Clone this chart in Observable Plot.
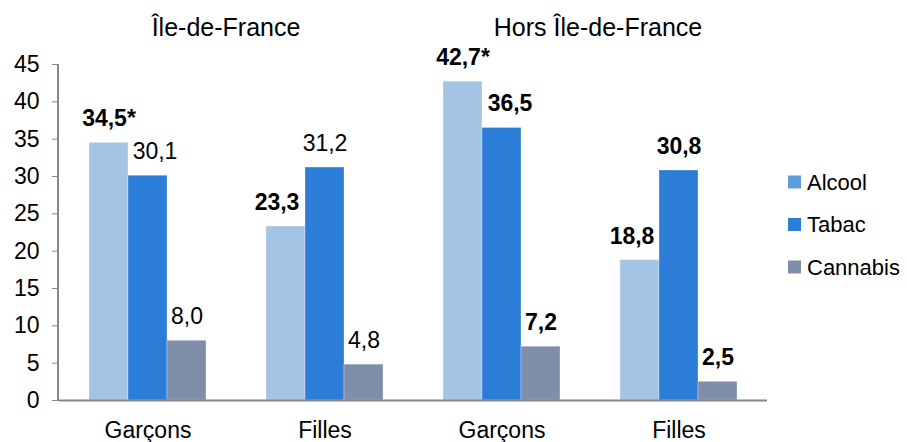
<!DOCTYPE html>
<html>
<head>
<meta charset="utf-8">
<script src="https://cdn.jsdelivr.net/npm/d3@7"></script>
<script src="https://cdn.jsdelivr.net/npm/@observablehq/plot@0.6"></script>
<style>
  html, body { margin: 0; padding: 0; background: #fff; }
  #chart { width: 907px; height: 442px; }
</style>
</head>
<body>
<div id="chart"></div>
<script>
// ---- Data ----
const regions = ["Île-de-France", "Île-de-France", "Hors Île-de-France", "Hors Île-de-France"];
const sexes = ["Garçons", "Filles", "Garçons", "Filles"];
const produits = ["Alcool", "Tabac", "Cannabis"];
const alcool = [34.5, 23.3, 42.7, 18.8];
const tabac = [30.1, 31.2, 36.5, 30.8];
const cannabis = [8.0, 4.8, 7.2, 2.5];
// significance (bold labels) and asterisk marks
const alcoolSignif = [true, true, true, true];
const tabacSignif = [false, false, true, true];
const cannabisSignif = [false, false, true, true];
const alcoolEtoile = [true, false, true, false];
const tabacEtoile = [false, false, false, false];
const cannabisEtoile = [false, false, false, false];
const yTicks = [0, 5, 10, 15, 20, 25, 30, 35, 40, 45];

// ---- Styling ----
const barColors = ["#A3C4E2", "#2B7DD7", "#7F8FAA"];
const legendColors = ["#5E9DD6", "#2B7DD7", "#7F8FAA"];
const font = "'Liberation Sans', Arial, sans-serif";
const FS = 23;
// small horizontal nudges of a few labels (as in the original layout)
const labelNudge = {"0|Tabac": 7, "1|Alcool": -9, "2|Tabac": 8, "3|Alcool": -8};

// ---- Build table ----
const keys = regions.map((r, i) => r + " | " + sexes[i]);
const seriesVals = [alcool, tabac, cannabis];
const seriesSig = [alcoolSignif, tabacSignif, cannabisSignif];
const seriesStar = [alcoolEtoile, tabacEtoile, cannabisEtoile];
const rows = [];
keys.forEach((k, i) => {
  produits.forEach((p, j) => {
    const v = seriesVals[j][i];
    rows.push({
      g: k, produit: p, value: v,
      bold: seriesSig[j][i],
      label: d3.format(".1f")(v).replace(".", ",") + (seriesStar[j][i] ? "*" : ""),
      nudge: labelNudge[i + "|" + p] || 0
    });
  });
});

// one text mark per (weight, nudge) combination
const labelMarks = d3.groups(rows, r => r.bold, r => r.nudge).flatMap(([bold, byNudge]) =>
  byNudge.map(([nudge, data]) => Plot.text(data, {
    fx: "g", x: "produit", y: "value", text: "label",
    fontWeight: bold ? "bold" : "normal", fontSize: FS, fill: "#000",
    lineAnchor: "middle", dy: -24, dx: nudge
  }))
);

const titles = [
  {g: keys[0], t: regions[0], dx: -10.5},
  {g: keys[2], t: regions[2], dx: 7.5}
];
const titleMarks = titles.map(d => Plot.text([d], {
  fx: "g", text: "t", frameAnchor: "top-right", textAnchor: "middle", lineAnchor: "middle",
  dy: -37, dx: d.dx, fontSize: 25, fill: "#000"
}));

const plot = Plot.plot({
  width: 907,
  height: 442,
  marginLeft: 58,
  marginRight: 139,
  marginTop: 64,
  marginBottom: 42,
  style: {fontFamily: font, fontSize: FS + "px", color: "#000", background: "#fff", overflow: "visible"},
  fx: {domain: keys, padding: 0, label: null, axis: null},
  x: {domain: produits, paddingInner: 0, paddingOuter: 0.736, axis: null},
  y: {domain: [0, 45], axis: null},
  color: {domain: produits, range: barColors},
  marks: [
    Plot.barY(rows, {fx: "g", x: "produit", y: "value", fill: "produit", stroke: "#fff", strokeOpacity: 0.3, strokeWidth: 1}),
    Plot.ruleY([0], {stroke: "#878787", strokeWidth: 2}),
    Plot.axisY({ticks: yTicks, tickSize: 7, tickPadding: 13, stroke: "#878787", fill: "#000", fontSize: FS, label: null}),
    Plot.axisFx({anchor: "bottom", tickSize: 0, tickPadding: 21, fontSize: FS, fill: "#000", label: null,
      tickFormat: k => sexes[keys.indexOf(k)]}),
    ...labelMarks,
    ...titleMarks
  ]
});

document.getElementById("chart").appendChild(plot);

// y axis line, using the plot's y scale
const ys = plot.scale("y");
const svg = d3.select(plot);
svg.append("line")
  .attr("x1", 58).attr("x2", 58)
  .attr("y1", ys.apply(0)).attr("y2", ys.apply(45))
  .attr("stroke", "#878787").attr("stroke-width", 2);

// legend
const legendY = [182, 224.5, 267];
const lg = svg.append("g").attr("font-family", font).attr("font-size", 22).attr("text-anchor", "start");
produits.forEach((p, i) => {
  lg.append("rect").attr("x", 788).attr("y", legendY[i] - 6.5).attr("width", 13).attr("height", 13).attr("fill", legendColors[i]);
  lg.append("text").attr("x", 807).attr("y", legendY[i]).attr("dy", "0.35em").attr("fill", "#000").text(p);
});
</script>
</body>
</html>
